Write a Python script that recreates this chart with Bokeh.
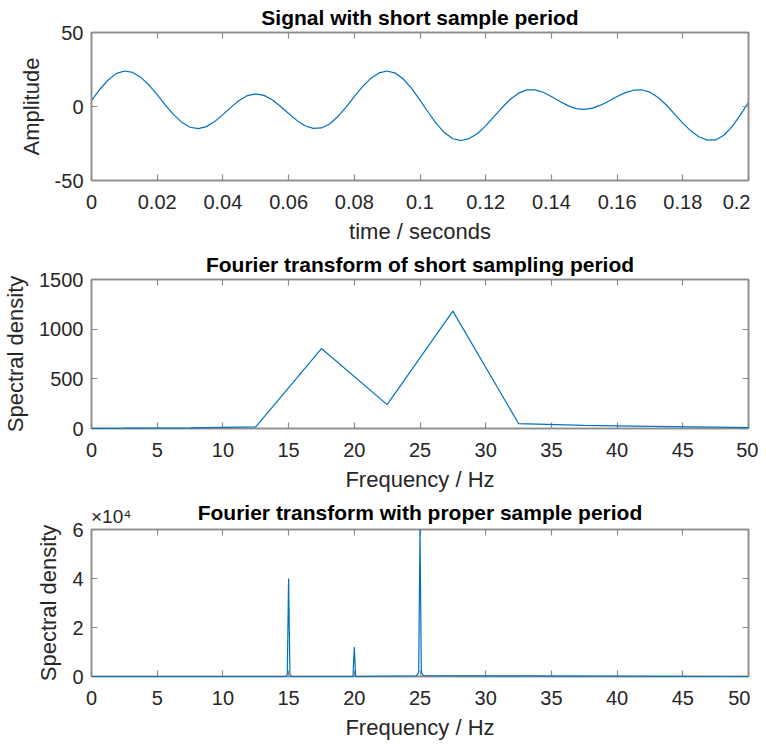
from bokeh.plotting import figure
from bokeh.layouts import column
from bokeh.models import FixedTicker, LinearAxis, Range1d
from bokeh.embed import file_html
from bokeh.resources import INLINE

# ---------------- data ----------------
time_s = [round(i * 0.0025, 4) for i in range(81)]
amplitude = [4.0, 11.5, 17.8, 22.2, 24.0, 23.0, 19.7, 14.5, 8.0, 1.0,
             -5.5, -10.7, -14.0, -15.0, -13.6, -10.2, -5.5, -0.4, 4.2, 7.4,
             8.5, 7.5, 4.5, 0.2, -4.7, -9.4, -13.0, -14.8, -14.5, -11.8,
             -6.8, -0.4, 6.6, 13.4, 19.0, 22.7, 24.0, 22.6, 18.4, 12.1,
             4.3, -3.9, -11.6, -17.8, -21.8, -23.0, -21.7, -18.2, -13.1, -6.9,
             -0.7, 4.9, 9.0, 11.2, 11.2, 9.6, 6.8, 3.6, 0.6, -1.4,
             -2.0, -1.1, 0.9, 3.7, 6.7, 9.4, 11.0, 11.3, 9.7, 6.1,
             1.0, -5.1, -11.2, -16.6, -20.6, -22.7, -22.6, -19.4, -13.6, -5.8,
             2.8]

freq_short = [0, 2.5, 7.5, 12.5, 17.5, 22.5, 27.5, 32.5, 37.5, 42.5, 47.5, 50]
density_short = [2, 3, 6, 17, 805, 240, 1182, 50, 32, 22, 14, 8]

freq_proper = [0, 14.8, 14.9, 15.0, 15.1, 15.2, 19.9, 20.0, 20.1,
               24.7, 24.8, 24.9, 25.0, 25.1, 25.2, 25.3, 50]
density_proper = [0, 0, 900, 40000, 900, 0, 0, 12000, 0,
                  300, 700, 1800, 60000, 1800, 700, 300, 0]

t_ticks = [0, 0.02, 0.04, 0.06, 0.08, 0.1, 0.12, 0.14, 0.16, 0.18, 0.2]
t_labels = ["0", "0.02", "0.04", "0.06", "0.08", "0.1", "0.12", "0.14", "0.16", "0.18", "0.2"]
f_ticks = [0, 5, 10, 15, 20, 25, 30, 35, 40, 45, 50]
f_labels = ["0", "5", "10", "15", "20", "25", "30", "35", "40", "45", "50"]
amp_ticks = [-50, 0, 50]
amp_labels = ["-50", "0", "50"]
dens1_ticks = [0, 500, 1000, 1500]
dens1_labels = ["0", "500", "1000", "1500"]
dens2_ticks = [0, 20000, 40000, 60000]
dens2_labels = ["0", "2", "4", "6"]
dens2_exponent = "×10⁴"
exponent_anchor = [1.5]   # Hz position that centres the multiplier label

titles = ["Signal with short sample period",
          "Fourier transform of short sampling period",
          "Fourier transform with proper sample period"]

# ---------------- style ----------------
FONT = "Liberation Sans"
AX = "#8c8c8c"
TXT = "#262626"
LINE = "#0072BD"
FW = 657
LEFT, RIGHT = 83, 10


def style_axis(ax, ticks, labels, show, is_x=False):
    ax.ticker = FixedTicker(ticks=ticks)
    ax.major_tick_in = 6
    ax.major_tick_out = 0
    ax.minor_tick_in = 0
    ax.minor_tick_out = 0
    ax.axis_line_color = AX
    ax.axis_line_width = 1.5
    ax.major_tick_line_color = AX
    ax.major_tick_line_width = 1.2
    ax.major_label_text_font = FONT
    ax.axis_label_text_font = FONT
    ax.axis_label_text_font_style = "normal"
    ax.axis_label_text_font_size = "22px"
    ax.axis_label_text_color = TXT
    if show:
        ax.major_label_overrides = dict(zip(ticks, labels))
        ax.major_label_text_color = TXT
        ax.major_label_text_font_size = "20px"
        ax.major_label_standoff = 14 if is_x else 8
        ax.axis_label_standoff = 7 if is_x else 8
    else:
        ax.major_label_text_color = None
        ax.major_label_text_font_size = "1px"
        ax.major_label_standoff = 0


def make_fig(title, xr, yr, xt, xl, yt, yl, xlabel, ylabel, top, bottom,
             fh, title_standoff):
    p = figure(frame_width=FW, frame_height=fh, output_backend="svg",
               toolbar_location=None, x_range=Range1d(*xr), y_range=Range1d(*yr),
               min_border_left=LEFT, min_border_right=RIGHT,
               min_border_top=top, min_border_bottom=bottom,
               x_axis_label=xlabel, y_axis_label=ylabel)
    p.title.text = title
    p.title.text_font = FONT
    p.title.text_font_size = "21px"
    p.title.text_font_style = "bold"
    p.title.text_color = "#000000"
    p.title.align = "center"
    p.title.standoff = title_standoff
    p.xgrid.visible = False
    p.ygrid.visible = False
    p.outline_line_color = AX
    p.outline_line_width = 1.5
    p.background_fill_color = "white"
    p.border_fill_color = "white"
    style_axis(p.xaxis[0], xt, xl, True, is_x=True)
    style_axis(p.yaxis[0], yt, yl, True)
    ra = LinearAxis()
    style_axis(ra, yt, yl, False)
    p.add_layout(ra, "right")
    ta = LinearAxis()
    style_axis(ta, xt, xl, False)
    p.add_layout(ta, "above")
    return p


p1 = make_fig(titles[0], (0, 0.2), (-50, 50),
              t_ticks, t_labels, amp_ticks, amp_labels,
              "time / seconds", "Amplitude", 20, 56, 148, 7)
r1 = p1.line(time_s, amplitude, line_color=LINE, line_width=1.2)

p2 = make_fig(titles[1], (0, 50), (0, 1500),
              f_ticks, f_labels, dens1_ticks, dens1_labels,
              "Frequency / Hz", "Spectral density", 33, 56, 149, 8)
r2 = p2.line(freq_short, density_short, line_color=LINE, line_width=1.2)
r2.level = "overlay"

# third panel: its title and the x10^4 multiplier share one row above the frame
p3 = make_fig("", (0, 50), (0, 60000),
              f_ticks, f_labels, dens2_ticks, dens2_labels,
              "Frequency / Hz", "Spectral density", 35, 56, 147, 0)
r3 = p3.line(freq_proper, density_proper, line_color=LINE, line_width=1.2)
r3.level = "overlay"

head = LinearAxis(axis_label=titles[2])
head.ticker = FixedTicker(ticks=exponent_anchor)
head.major_label_overrides = {exponent_anchor[0]: dens2_exponent}
head.axis_line_color = None
head.major_tick_line_color = None
head.minor_tick_line_color = None
head.major_tick_in = 0
head.major_tick_out = 0
head.minor_tick_in = 0
head.minor_tick_out = 0
head.major_label_standoff = 3
head.major_label_text_font = FONT
head.major_label_text_font_size = "19px"
head.major_label_text_color = TXT
head.axis_label_text_font = FONT
head.axis_label_text_font_size = "21px"
head.axis_label_text_font_style = "bold"
head.axis_label_text_color = "#000000"
head.axis_label_standoff = -21
p3.add_layout(head, "above")

layout = column(p1, p2, p3, spacing=0)
open("out.html", "w").write(file_html(layout, INLINE))
